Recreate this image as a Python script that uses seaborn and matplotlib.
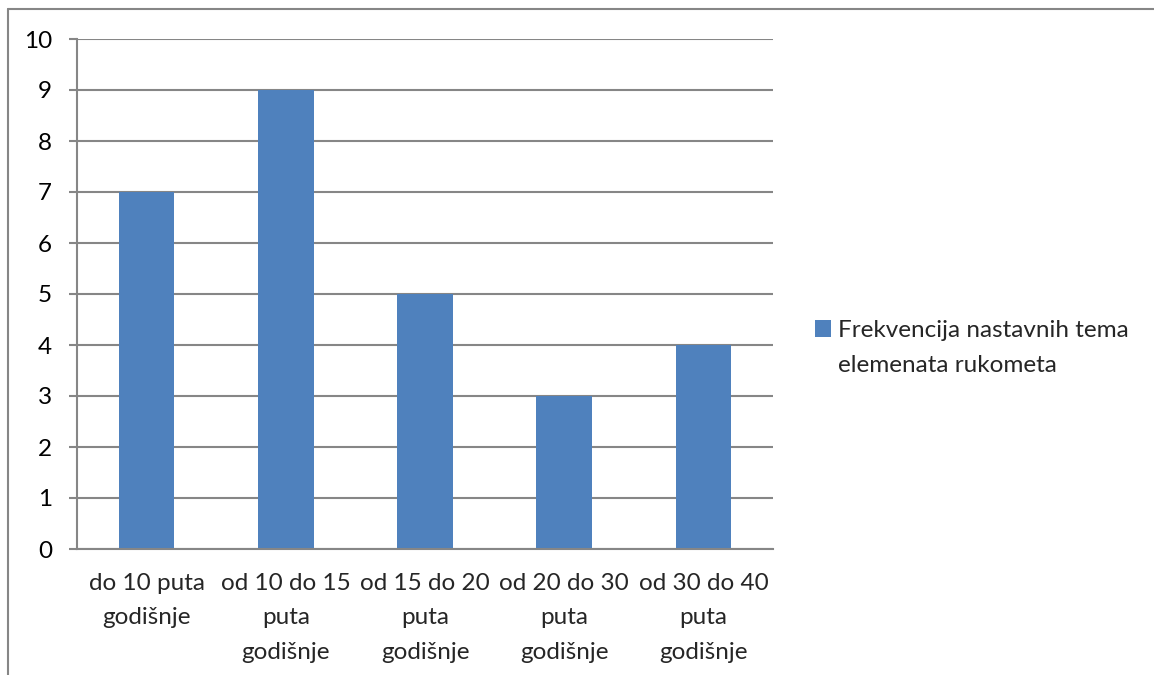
import matplotlib
matplotlib.use("Agg")
import matplotlib.pyplot as plt
from matplotlib.lines import Line2D
import seaborn as sns

categories = [
    "do 10 puta\ngodišnje",
    "od 10 do 15\nputa\ngodišnje",
    "od 15 do 20\nputa\ngodišnje",
    "od 20 do 30\nputa\ngodišnje",
    "od 30 do 40\nputa\ngodišnje",
]
values = [7, 9, 5, 3, 4]
series_label = "Frekvencija nastavnih tema"
series_label_2 = "elemenata rukometa"
y_ticks = list(range(0, 11))

BAR_COLOR = "#4F81BD"
LINE_COLOR = "#868686"
FONT_SIZE = 17.5

sns.set_theme(style="white")
plt.rcParams["font.family"] = ["Lato", "DejaVu Sans"]

W, H = 1154, 675
fig = plt.figure(figsize=(W / 100, H / 100), dpi=100)
ax = fig.add_axes([77 / W, 1 - 549 / H, (773 - 77) / W, (549 - 39) / H])

sns.barplot(x=categories, y=values, color=BAR_COLOR, width=0.4, saturation=1,
            linewidth=0, ax=ax)

# axes, grid
ax.set_xlim(-0.5, len(categories) - 0.5)
ax.set_ylim(0, 10)
ax.set_yticks(y_ticks)
ax.set_yticklabels([str(t) for t in y_ticks], fontsize=FONT_SIZE, color="black")
ax.yaxis.grid(True, color=LINE_COLOR, linewidth=1.5)
ax.set_axisbelow(True)
ax.xaxis.grid(False)

# tick marks between categories, labels at centers
ax.set_xticks([i - 0.5 for i in range(len(categories) + 1)])
ax.set_xticklabels([])
ax.set_xticks(range(len(categories)), minor=True)
ax.set_xticklabels(categories, minor=True, fontsize=FONT_SIZE, linespacing=1.8,
                   va="top", ha="center")
ax.tick_params(axis="x", which="minor", length=0, pad=17)
ax.tick_params(axis="x", which="major", length=6, width=1.5, color=LINE_COLOR, direction="out")
ax.tick_params(axis="y", length=6, width=1.5, color=LINE_COLOR, direction="out", pad=12, left=True)

for side in ["top", "right"]:
    ax.spines[side].set_visible(False)
for side in ["left", "bottom"]:
    ax.spines[side].set_color(LINE_COLOR)
    ax.spines[side].set_linewidth(1.5)
ax.set_xlabel("")
ax.set_ylabel("")

# legend
handle = plt.Rectangle((0, 0), 1, 1, color=BAR_COLOR, linewidth=0)
fig.legend([handle], [series_label], loc="upper left", bbox_to_anchor=(815 / W, 1 - 320 / H),
           frameon=False, fontsize=FONT_SIZE, handlelength=0.65, handleheight=0.65,
           handletextpad=0.3, borderpad=0, borderaxespad=0)
fig.text(838 / W, 1 - 365 / H, series_label_2, fontsize=FONT_SIZE, va="center", ha="left")

# outer chart frame (top and left edges visible)
fig.add_artist(Line2D([8 / W, 1], [1 - 9 / H, 1 - 9 / H], color=LINE_COLOR, linewidth=1.5))
fig.add_artist(Line2D([8 / W, 8 / W], [0, 1 - 9 / H], color=LINE_COLOR, linewidth=1.5))

fig.savefig("out.png", dpi=100)
